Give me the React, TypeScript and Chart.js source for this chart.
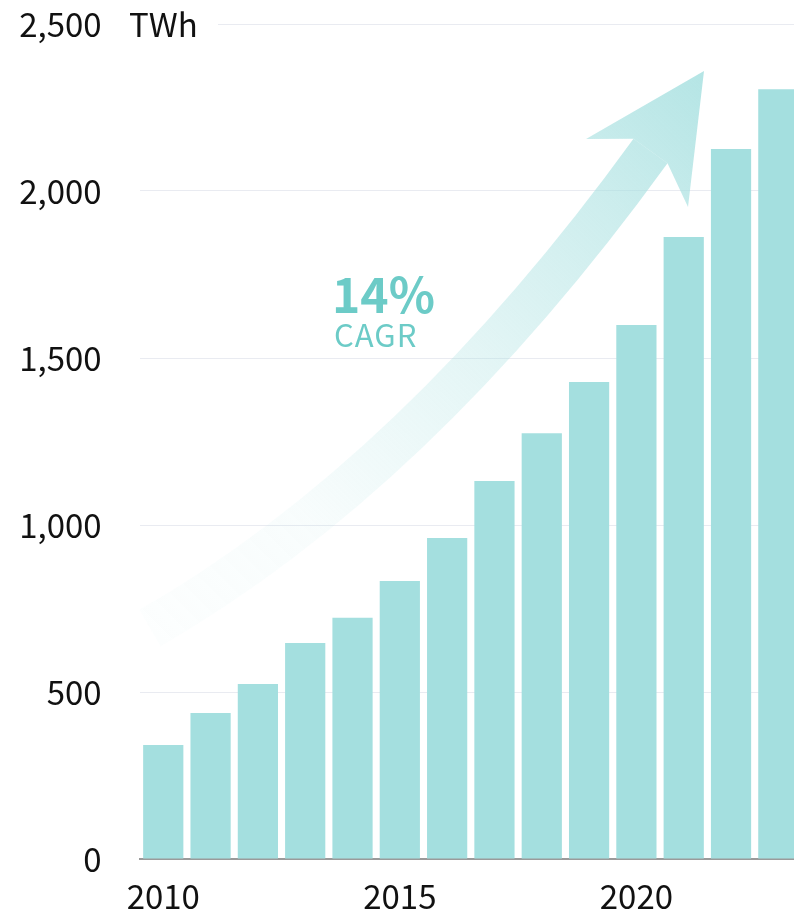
import React, { useEffect, useRef } from "react";
import { Chart, registerables } from "chart.js";

Chart.register(...registerables);

const years = ["2010", "2011", "2012", "2013", "2014", "2015", "2016", "2017", "2018", "2019", "2020", "2021", "2022", "2023"];
const generation = [341, 437, 524, 647, 722, 832, 961, 1132, 1275, 1428, 1599, 1862, 2126, 2305];
const shownYearLabels = ["2010", "2015", "2020"];
const unitLabel = "TWh";
const cagrValue = "14%";
const cagrText = "CAGR";

const FONT = '"Noto Sans CJK JP", "Noto Sans", sans-serif';
const BAR = "#a4dfdf";
const TEAL_TEXT = "#6ccbc7";

const decorPlugin = {
  id: "decor",
  beforeDatasetsDraw(chart: any) {
    const ctx = chart.ctx as CanvasRenderingContext2D;
    const yScale = chart.scales.y;
    const topY = yScale.getPixelForValue(2500);
    ctx.save();
    // unit label over the top grid line
    ctx.fillStyle = "#ffffff";
    ctx.fillRect(104, topY - 12, 114, 24);
    ctx.fillStyle = "#111111";
    ctx.font = `33px ${FONT}`;
    ctx.textBaseline = "middle";
    ctx.textAlign = "left";
    ctx.fillText(unitLabel, 129, topY);

    // growth arrow
    const p0 = { x: 150, y: 628 };
    const p1 = { x: 416, y: 475 };
    const p2 = { x: 650.5, y: 151 };
    const tip = { x: 704, y: 71 };
    const g = ctx.createLinearGradient(p0.x, p0.y, tip.x, tip.y);
    g.addColorStop(0, "rgba(164,223,223,0.03)");
    g.addColorStop(0.24, "rgba(164,223,223,0.08)");
    g.addColorStop(0.54, "rgba(164,223,223,0.3)");
    g.addColorStop(0.79, "rgba(164,223,223,0.55)");
    g.addColorStop(1, "rgba(164,223,223,0.82)");
    ctx.strokeStyle = g;
    ctx.lineWidth = 42;
    ctx.lineCap = "butt";
    ctx.beginPath();
    ctx.moveTo(p0.x, p0.y);
    ctx.quadraticCurveTo(p1.x, p1.y, p2.x, p2.y);
    ctx.stroke();
    ctx.fillStyle = g;
    ctx.beginPath();
    ctx.moveTo(tip.x, tip.y);
    ctx.lineTo(586, 139);
    ctx.lineTo(633.5, 138.7);
    ctx.lineTo(667.5, 163.3);
    ctx.lineTo(688, 207);
    ctx.closePath();
    ctx.fill();

    // CAGR text
    ctx.fillStyle = TEAL_TEXT;
    ctx.textBaseline = "alphabetic";
    ctx.font = `bold 48px ${FONT}`;
    ctx.fillText(cagrValue, 332, 313);
    ctx.font = `31px ${FONT}`;
    (ctx as any).letterSpacing = "1px";
    ctx.fillText(cagrText, 334, 347);
    ctx.restore();
  },
};

export default function App() {
  const ref = useRef<HTMLCanvasElement | null>(null);
  useEffect(() => {
    if (!ref.current) return;
    const chart = new Chart(ref.current, {
      type: "bar",
      data: {
        labels: years,
        datasets: [
          {
            data: generation,
            backgroundColor: BAR,
            borderWidth: 0,
            barPercentage: 0.85,
            categoryPercentage: 1,
          },
        ],
      },
      options: {
        responsive: false,
        animation: false,
        devicePixelRatio: 1,
        layout: { padding: { top: 24, right: 0, bottom: 0, left: 0 } },
        plugins: { legend: { display: false }, tooltip: { enabled: false } },
        scales: {
          x: {
            grid: { display: false, drawTicks: false },
            border: { display: true, color: "#9a9a9a", width: 2 },
            ticks: {
              autoSkip: false,
              maxRotation: 0,
              padding: 18,
              color: "#111111",
              font: { family: FONT, size: 33 },
              callback: (_v: any, i: number) => (shownYearLabels.includes(years[i]) ? years[i] : ""),
            },
            afterFit: (s: any) => {
              s.height = 55;
            },
          },
          y: {
            min: 0,
            max: 2500,
            grid: { color: "#e9ebf1", lineWidth: 1, drawTicks: true, tickLength: 38, tickColor: "rgba(0,0,0,0)" },
            border: { display: false },
            ticks: {
              stepSize: 500,
              padding: 0,
              color: "#111111",
              font: { family: FONT, size: 33 },
              callback: (v: any) => Number(v).toLocaleString("en-US"),
            },
            afterFit: (s: any) => {
              s.width = 139.6;
            },
          },
        },
      },
      plugins: [decorPlugin],
    });
    return () => chart.destroy();
  }, []);
  return (
    <div style={{ position: "fixed", left: 0, top: 0, width: 794, height: 914, overflow: "hidden", background: "#fff" }}>
      <canvas ref={ref} width={802} height={914} style={{ display: "block" }} />
    </div>
  );
}
